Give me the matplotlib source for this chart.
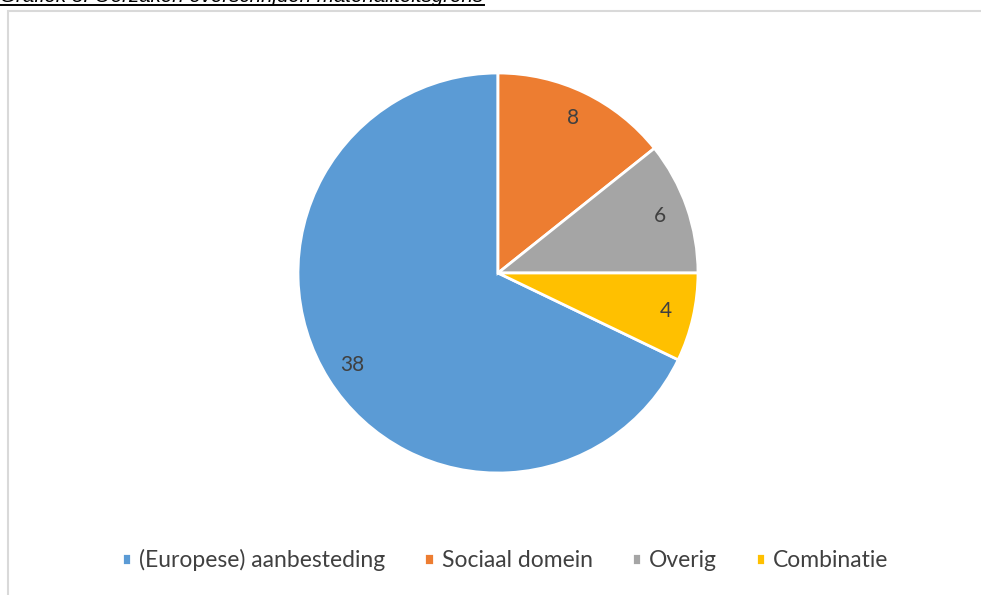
import matplotlib
matplotlib.use('Agg')
import matplotlib.pyplot as plt
from matplotlib.patches import Rectangle
from matplotlib.lines import Line2D

plt.rcParams['font.family'] = ['Lato', 'DejaVu Sans']

# data
labels = ['(Europese) aanbesteding', 'Sociaal domein', 'Overig', 'Combinatie']
values = [38, 8, 6, 4]
colors = ['#5B9BD5', '#ED7D31', '#A5A5A5', '#FFC000']
title = 'Grafiek 5: Oorzaken overschrijden materialiteitsgrens'

W, H = 981, 595
fig = plt.figure(figsize=(W / 100, H / 100), dpi=100)

# chart border (cut by the image edge on the right and bottom)
fig.patches.append(Rectangle((8 / W, -0.05), 1.1, 1 - 11 / H + 0.05,
                             transform=fig.transFigure, fill=False,
                             edgecolor='#d9d9d9', linewidth=1.5))

# caption above the chart, clipped by the top edge as in the source
fig.text(0.0, 1 - 2.5 / H, title, fontsize=14.8, style='italic',
         family='Liberation Sans', color='black', ha='left', va='baseline')
fig.lines.append(Line2D([0, 484 / W], [1 - 4.5 / H] * 2, transform=fig.transFigure,
                        color='black', linewidth=1.4))

# pie: Excel starts the first slice so that the small ones begin at 12 o'clock
total = sum(values)
start = 90 - 360 * sum(values[1:]) / total
ax = fig.add_axes([298 / W, 122 / H, 400 / W, 400 / H])
wedges, texts, autotexts = ax.pie(
    values, colors=colors, startangle=start, counterclock=False,
    autopct=lambda p: f'{round(p * total / 100):d}', pctdistance=0.86,
    wedgeprops=dict(edgecolor='white', linewidth=2),
    textprops=dict(fontsize=15, color='#404040'))
ax.set_xlim(-1.0, 1.0)
ax.set_ylim(-1.0, 1.0)

fig.legend(wedges, labels, loc='center', bbox_to_anchor=(0.515, 1 - 560 / H),
           ncol=4, frameon=False, fontsize=16.5, handlelength=0.4, handleheight=0.4,
           handletextpad=0.35, columnspacing=1.7, labelcolor='#404040')

fig.savefig('out.png', dpi=100)
